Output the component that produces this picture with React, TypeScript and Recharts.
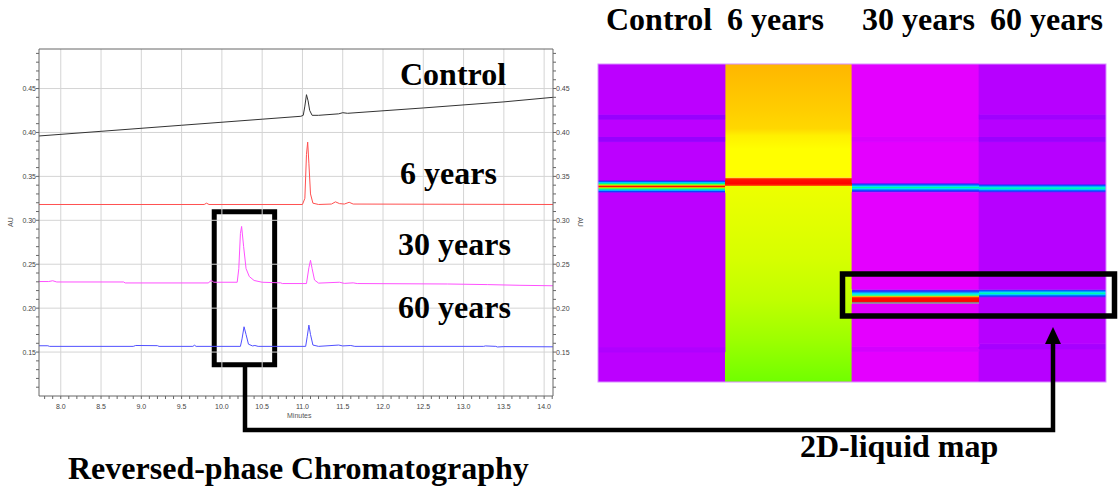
import React from 'react'
import { LineChart, Line, XAxis, YAxis, ReferenceLine, ReferenceArea, BarChart, Bar, Cell } from 'recharts'

// ---- reversed-phase chromatograms (minutes, AU) ----
const controlTrace = [
  { t: 7.73, au: 0.396 }, { t: 8.5, au: 0.4013 }, { t: 9.5, au: 0.4082 }, { t: 10.5, au: 0.4151 },
  { t: 10.98, au: 0.4184 }, { t: 11.01, au: 0.4195 }, { t: 11.03, au: 0.43 }, { t: 11.05, au: 0.443 },
  { t: 11.07, au: 0.436 }, { t: 11.09, au: 0.425 }, { t: 11.12, au: 0.4195 }, { t: 11.2, au: 0.4195 },
  { t: 11.45, au: 0.4212 }, { t: 11.5, au: 0.4225 }, { t: 11.56, au: 0.4218 }, { t: 12.5, au: 0.4279 },
  { t: 13.5, au: 0.4348 }, { t: 14.11, au: 0.44 },
]

const sixYearTrace = [
  { t: 7.73, au: 0.318 }, { t: 9.78, au: 0.318 }, { t: 9.81, au: 0.3195 }, { t: 9.84, au: 0.318 },
  { t: 11.0, au: 0.318 }, { t: 11.03, au: 0.325 }, { t: 11.05, au: 0.375 }, { t: 11.065, au: 0.389 },
  { t: 11.08, au: 0.365 }, { t: 11.1, au: 0.33 }, { t: 11.13, au: 0.3195 }, { t: 11.2, au: 0.318 },
  { t: 11.36, au: 0.3185 }, { t: 11.41, au: 0.321 }, { t: 11.46, au: 0.319 }, { t: 11.52, au: 0.3185 },
  { t: 11.58, au: 0.3205 }, { t: 11.63, au: 0.3185 }, { t: 14.11, au: 0.318 },
]

const thirtyYearTrace = [
  { t: 7.73, au: 0.2303 }, { t: 7.85, au: 0.2303 }, { t: 7.9, au: 0.2312 }, { t: 7.95, au: 0.2298 },
  { t: 8.78, au: 0.2298 }, { t: 8.8, au: 0.2287 }, { t: 9.83, au: 0.2287 }, { t: 9.87, au: 0.2315 },
  { t: 9.9, au: 0.2295 }, { t: 10.19, au: 0.2295 }, { t: 10.21, au: 0.245 }, { t: 10.23, au: 0.285 },
  { t: 10.245, au: 0.293 }, { t: 10.27, au: 0.27 }, { t: 10.3, au: 0.245 }, { t: 10.34, au: 0.236 },
  { t: 10.4, au: 0.2315 }, { t: 10.5, au: 0.2295 }, { t: 10.73, au: 0.2288 }, { t: 10.75, au: 0.228 },
  { t: 11.05, au: 0.228 }, { t: 11.08, au: 0.246 }, { t: 11.1, au: 0.2545 }, { t: 11.12, au: 0.245 },
  { t: 11.15, au: 0.232 }, { t: 11.2, au: 0.2285 }, { t: 11.46, au: 0.2295 }, { t: 11.52, au: 0.2282 },
  { t: 11.63, au: 0.2288 }, { t: 11.68, au: 0.228 }, { t: 12.8, au: 0.2275 }, { t: 13.3, au: 0.2268 },
  { t: 13.7, au: 0.226 }, { t: 14.11, au: 0.2255 },
]

const sixtyYearTrace = [
  { t: 7.73, au: 0.1572 }, { t: 7.84, au: 0.1572 }, { t: 7.86, au: 0.1565 }, { t: 8.9, au: 0.1565 },
  { t: 8.93, au: 0.1575 }, { t: 9.2, au: 0.1573 }, { t: 9.22, au: 0.1565 }, { t: 9.64, au: 0.1565 },
  { t: 9.66, au: 0.1578 }, { t: 9.68, au: 0.1565 }, { t: 10.23, au: 0.1565 }, { t: 10.25, au: 0.165 },
  { t: 10.275, au: 0.1788 }, { t: 10.3, au: 0.17 }, { t: 10.33, au: 0.159 }, { t: 10.38, au: 0.157 },
  { t: 10.41, au: 0.1575 }, { t: 10.45, au: 0.1565 }, { t: 11.04, au: 0.1565 }, { t: 11.06, au: 0.168 },
  { t: 11.08, au: 0.1807 }, { t: 11.1, au: 0.17 }, { t: 11.13, au: 0.158 }, { t: 11.2, au: 0.1565 },
  { t: 11.45, au: 0.158 }, { t: 11.5, au: 0.157 }, { t: 11.6, au: 0.1575 }, { t: 11.65, au: 0.1565 },
  { t: 13.25, au: 0.1565 }, { t: 13.27, au: 0.157 }, { t: 13.4, au: 0.1565 }, { t: 13.42, au: 0.1558 },
  { t: 13.5, au: 0.1562 }, { t: 14.11, au: 0.156 },
]

const xDomain = [7.73, 14.11]
const yDomain = [0.1, 0.495]
const xMajor = [8.0, 8.5, 9.0, 9.5, 10.0, 10.5, 11.0, 11.5, 12.0, 12.5, 13.0, 13.5, 14.0]
const yMajor = [0.15, 0.2, 0.25, 0.3, 0.35, 0.4, 0.45]
const xMinor = Array.from({ length: 64 }, (_, i) => Math.round((7.8 + i * 0.1) * 10) / 10)
const yMinor = Array.from({ length: 39 }, (_, i) => Math.round((0.11 + i * 0.01) * 100) / 100)

// highlighted window on the chromatogram
const zoomWindow = { t1: 9.905, t2: 10.655, au1: 0.1357, au2: 0.3097 }

// ---- 2D-liquid map: bands per column, from bottom (0) to top (100) ----
const mapColumns = ['Control', '6 years', '30 years', '60 years']

const controlBands = [
  { from: 0, to: 9.4, fill: '#bc00ff' }, { from: 9.4, to: 11, fill: '#b000ff' },
  { from: 11, to: 59.5, fill: '#bc00ff' }, { from: 59.5, to: 63.5, fill: 'url(#gRainbow)' },
  { from: 63.5, to: 75.6, fill: '#bc00ff' }, { from: 75.6, to: 77.2, fill: '#9800ff' },
  { from: 77.2, to: 82.6, fill: '#bc00ff' }, { from: 82.6, to: 84.2, fill: '#9800ff' },
  { from: 84.2, to: 100, fill: '#bc00ff' },
]
const sixYearBands = [
  { from: 0, to: 61.6, fill: 'url(#gYellowGreen)' }, { from: 61.6, to: 64.3, fill: 'url(#gRed)' },
  { from: 64.3, to: 100, fill: 'url(#gOrangeYellow)' },
]
const thirtyYearBands = [
  { from: 0, to: 9.6, fill: '#e400ff' }, { from: 9.6, to: 11.2, fill: '#d400ff' },
  { from: 11.2, to: 24.5, fill: '#e400ff' }, { from: 24.5, to: 29.2, fill: 'url(#gRainbow2)' },
  { from: 29.2, to: 59.7, fill: '#e400ff' }, { from: 59.7, to: 62.6, fill: 'url(#gCyan)' },
  { from: 62.6, to: 75.6, fill: '#e400ff' }, { from: 75.6, to: 77.2, fill: '#d800ff' },
  { from: 77.2, to: 100, fill: '#e400ff' },
]
const sixtyYearBands = [
  { from: 0, to: 10.4, fill: '#b700ff' }, { from: 10.4, to: 12, fill: '#a600ff' },
  { from: 12, to: 26.6, fill: '#b700ff' }, { from: 26.6, to: 29.2, fill: 'url(#gCyan)' },
  { from: 29.2, to: 59.6, fill: '#b700ff' }, { from: 59.6, to: 62.3, fill: 'url(#gCyan)' },
  { from: 62.3, to: 75.6, fill: '#b700ff' }, { from: 75.6, to: 77.2, fill: '#9c00ff' },
  { from: 77.2, to: 82.6, fill: '#b700ff' }, { from: 82.6, to: 84.2, fill: '#a000ff' },
  { from: 84.2, to: 100, fill: '#b700ff' },
]

const allBands = [controlBands, sixYearBands, thirtyYearBands, sixtyYearBands]
const maxBands = Math.max(...allBands.map(b => b.length))
const mapData = mapColumns.map((name, c) => {
  const row: Record<string, string | number> = { name }
  for (let i = 0; i < maxBands; i++) {
    const b = allBands[c][i]
    row['b' + i] = b ? b.to - b.from : 0
  }
  return row
})

const serif = "'Liberation Serif', 'Times New Roman', serif"
const sans = "'Liberation Sans', Arial, sans-serif"

const isMajor = (v: number, step: number) => Math.abs(v / step - Math.round(v / step)) < 1e-6

function YTick(props: any) {
  const { x, y, payload, textAnchor } = props
  if (!isMajor(payload.value, 0.05)) return <g />
  return (
    <text x={x} y={y} dy={2.5} textAnchor={textAnchor} fontSize={7} fill="#444" fontFamily={sans}>
      {payload.value.toFixed(2)}
    </text>
  )
}

function XTick(props: any) {
  const { x, y, payload } = props
  if (!isMajor(payload.value, 0.5)) return <g />
  return (
    <text x={x} y={y} dy={6} textAnchor="middle" fontSize={7} fill="#444" fontFamily={sans}>
      {payload.value.toFixed(1)}
    </text>
  )
}

function Chromatogram() {
  return (
    <LineChart width={600} height={430} margin={{ top: 49, right: 12, bottom: 4, left: 8 }}>
      <XAxis dataKey="t" type="number" domain={xDomain} allowDataOverflow ticks={xMinor} tick={XTick}
        tickSize={3} tickMargin={4} height={30} stroke="#666" interval={0} />
      <YAxis yAxisId="left" type="number" domain={yDomain} allowDataOverflow ticks={yMinor} tick={YTick}
        tickSize={3} tickMargin={0} width={31} stroke="#666" interval={0} />
      <YAxis yAxisId="right" orientation="right" type="number" domain={yDomain} allowDataOverflow ticks={yMinor}
        tick={YTick} tickSize={3} tickMargin={0} width={35} stroke="#666" interval={0} />
      {yMajor.map(v => (
        <ReferenceLine key={'gy' + v} yAxisId="left" y={v} stroke="#d4d4d4" strokeWidth={1} />
      ))}
      {xMajor.map(v => (
        <ReferenceLine key={'gx' + v} yAxisId="left" x={v} stroke="#d4d4d4" strokeWidth={1} />
      ))}
      <ReferenceLine yAxisId="left" y={yDomain[1]} stroke="#666" strokeWidth={1} />
      <Line yAxisId="left" data={controlTrace} dataKey="au" stroke="#333333" strokeWidth={1} dot={false} isAnimationActive={false} />
      <Line yAxisId="left" data={sixYearTrace} dataKey="au" stroke="#ff5050" strokeWidth={1} dot={false} isAnimationActive={false} />
      <Line yAxisId="left" data={thirtyYearTrace} dataKey="au" stroke="#ff50ff" strokeWidth={1} dot={false} isAnimationActive={false} />
      <Line yAxisId="left" data={sixtyYearTrace} dataKey="au" stroke="#5050ff" strokeWidth={1} dot={false} isAnimationActive={false} />
      <ReferenceArea yAxisId="left" x1={zoomWindow.t1} x2={zoomWindow.t2} y1={zoomWindow.au1} y2={zoomWindow.au2}
        fill="none" fillOpacity={0} stroke="#000" strokeWidth={5} />
    </LineChart>
  )
}

function LiquidMap() {
  return (
    <BarChart width={508} height={318} data={mapData} margin={{ top: 0, right: 0, bottom: 0, left: 0 }}
      barCategoryGap={0} barGap={0}>
      <defs>
        <linearGradient id="gOrangeYellow" x1="0" y1="0" x2="0" y2="1">
          <stop offset="0" stopColor="#ffb600" />
          <stop offset="0.35" stopColor="#ffca00" />
          <stop offset="0.57" stopColor="#ffd800" />
          <stop offset="0.63" stopColor="#fff000" />
          <stop offset="0.75" stopColor="#ffff00" />
          <stop offset="1" stopColor="#ffff00" />
        </linearGradient>
        <linearGradient id="gYellowGreen" x1="0" y1="0" x2="0" y2="1">
          <stop offset="0" stopColor="#eeff00" />
          <stop offset="0.37" stopColor="#d6ff00" />
          <stop offset="0.58" stopColor="#c0ff00" />
          <stop offset="0.79" stopColor="#9cff00" />
          <stop offset="1" stopColor="#70ff00" />
        </linearGradient>
        <linearGradient id="gRed" x1="0" y1="0" x2="0" y2="1">
          <stop offset="0" stopColor="#ff9000" />
          <stop offset="0.25" stopColor="#ff1000" />
          <stop offset="0.75" stopColor="#ff0000" />
          <stop offset="1" stopColor="#ff7000" />
        </linearGradient>
        <linearGradient id="gRainbow" x1="0" y1="0" x2="0" y2="1">
          <stop offset="0" stopColor="#7000ff" />
          <stop offset="0.1" stopColor="#1040ff" />
          <stop offset="0.2" stopColor="#00d0ff" />
          <stop offset="0.3" stopColor="#00ff70" />
          <stop offset="0.38" stopColor="#c0ff00" />
          <stop offset="0.44" stopColor="#ff8000" />
          <stop offset="0.5" stopColor="#ff0000" />
          <stop offset="0.56" stopColor="#ff8000" />
          <stop offset="0.62" stopColor="#c0ff00" />
          <stop offset="0.7" stopColor="#00ff70" />
          <stop offset="0.8" stopColor="#00d0ff" />
          <stop offset="0.9" stopColor="#1040ff" />
          <stop offset="1" stopColor="#7000ff" />
        </linearGradient>
        <linearGradient id="gRainbow2" x1="0" y1="0" x2="0" y2="1">
          <stop offset="0" stopColor="#8000ff" />
          <stop offset="0.15" stopColor="#2040ff" />
          <stop offset="0.3" stopColor="#00e0ff" />
          <stop offset="0.42" stopColor="#30ff90" />
          <stop offset="0.5" stopColor="#ffb000" />
          <stop offset="0.58" stopColor="#ff1000" />
          <stop offset="0.82" stopColor="#ff0000" />
          <stop offset="0.9" stopColor="#888888" />
          <stop offset="1" stopColor="#b070d0" />
        </linearGradient>
        <linearGradient id="gCyan" x1="0" y1="0" x2="0" y2="1">
          <stop offset="0" stopColor="#7000ff" />
          <stop offset="0.2" stopColor="#0060ff" />
          <stop offset="0.38" stopColor="#00e0ff" />
          <stop offset="0.5" stopColor="#00ff90" />
          <stop offset="0.62" stopColor="#00e0ff" />
          <stop offset="0.8" stopColor="#0060ff" />
          <stop offset="1" stopColor="#7000ff" />
        </linearGradient>
      </defs>
      <XAxis dataKey="name" hide />
      <YAxis type="number" domain={[0, 100]} hide allowDataOverflow />
      {Array.from({ length: maxBands }, (_, i) => (
        <Bar key={'b' + i} dataKey={'b' + i} stackId="map" isAnimationActive={false}>
          {allBands.map((bands, c) => (
            <Cell key={c} fill={bands[i] ? bands[i].fill : 'none'}
              stroke={bands[i] && !bands[i].fill.startsWith('url') ? bands[i].fill : 'none'} strokeWidth={0.8} />
          ))}
        </Bar>
      ))}
    </BarChart>
  )
}

export default function App() {
  const headerStyle = { fontFamily: serif, fontWeight: 700, fontSize: 32, fill: '#000' }
  return (
    <div style={{ position: 'absolute', left: 0, top: 0, width: 1118, height: 489, background: '#fff' }}>
      <div style={{ position: 'absolute', left: 0, top: 0 }}>
        <Chromatogram />
      </div>
      <div style={{ position: 'absolute', left: 598, top: 64 }}>
        <LiquidMap />
      </div>
      <svg width={1118} height={489} style={{ position: 'absolute', left: 0, top: 0, pointerEvents: 'none' }}>
        {/* chromatogram annotations */}
        <text x={13} y={222} transform="rotate(-90 13 222)" textAnchor="middle" fontSize={7} fill="#555" fontFamily={sans}>AU</text>
        <text x={578} y={222} transform="rotate(90 578 222)" textAnchor="middle" fontSize={7} fill="#555" fontFamily={sans}>AU</text>
        <text x={287} y={418} fontSize={7} fill="#555" fontFamily={sans}>Minutes</text>
        <text x={400} y={85} style={headerStyle}>Control</text>
        <text x={400} y={184} style={headerStyle}>6 years</text>
        <text x={398} y={255} style={headerStyle}>30 years</text>
        <text x={398} y={318} style={headerStyle}>60 years</text>

        {/* map headers */}
        <text x={606} y={30} style={headerStyle}>Control</text>
        <text x={727} y={30} style={headerStyle}>6 years</text>
        <text x={862} y={30} style={headerStyle}>30 years</text>
        <text x={990} y={30} style={headerStyle}>60 years</text>
        <rect x={598} y={64} width={508} height={318} fill="none" stroke="#d890ff" strokeWidth={1} />

        {/* highlighted region on map + connector */}
        <rect x={842.5} y={274} width={272} height={42} fill="none" stroke="#000" strokeWidth={5.5} />
        <path d="M 245 366 L 245 430 L 1053 430 L 1053 340" fill="none" stroke="#000" strokeWidth={4.5} />
        <polygon points="1045,344 1053,327 1061,344" fill="#000" />

        <text x={68} y={479} style={headerStyle}>Reversed-phase Chromatography</text>
        <text x={800} y={457} style={headerStyle}>2D-liquid map</text>
      </svg>
    </div>
  )
}
